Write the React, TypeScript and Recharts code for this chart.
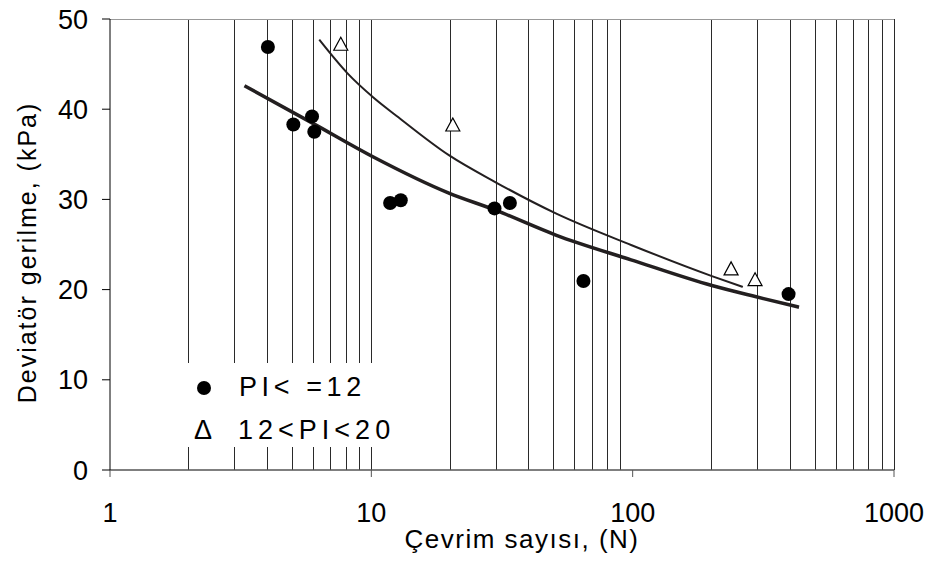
import React from 'react';
import {
  ComposedChart,
  Line,
  Scatter,
  XAxis,
  YAxis,
  ReferenceLine,
  Legend,
} from 'recharts';

// measured points, PI <= 12
const lowPiCycles = [4.02, 5.03, 5.93, 6.05, 11.8, 12.96, 29.6, 33.9, 64.8, 395];
const lowPiStress = [46.9, 38.3, 39.2, 37.5, 29.6, 29.9, 29.0, 29.6, 20.95, 19.5];

// measured points, 12 < PI < 20
const midPiCycles = [7.64, 20.5, 238, 294];
const midPiStress = [47.2, 38.25, 22.3, 21.1];

// trend curve, PI <= 12
const lowFitCycles = [3.27, 6.0, 10.18, 19.8, 29.9, 50.8, 98.6, 201, 297, 433];
const lowFitStress = [42.6, 38.4, 34.7, 30.7, 28.8, 26.05, 23.3, 20.45, 19.2, 18.05];

// trend curve, 12 < PI < 20
const midFitCycles = [6.32, 8.09, 10.18, 12.5, 19.8, 29.9, 50.8, 98.6, 201, 264];
const midFitStress = [47.7, 44.0, 41.3, 39.25, 34.9, 31.9, 28.45, 24.95, 21.5, 20.3];

const xTicks = [1, 10, 100, 1000];
const yTicks = [0, 10, 20, 30, 40, 50];
const minorCycles = [2, 3, 4, 5, 6, 7, 8, 9, 10, 20, 30, 40, 50, 60, 70, 80, 90, 200, 300, 400, 500, 600, 700, 800, 900, 1000];

const FONT = '"Liberation Sans", Arial, sans-serif';

const toPoints = (xs: number[], ys: number[]) => xs.map((x, i) => ({ x, y: ys[i] }));

const lowPiData = toPoints(lowPiCycles, lowPiStress);
const midPiData = toPoints(midPiCycles, midPiStress);
const lowFitData = toPoints(lowFitCycles, lowFitStress);
const midFitData = toPoints(midFitCycles, midFitStress);

const Dot = (props: any) => <circle cx={props.cx} cy={props.cy} r={7} fill="#000" />;

const Tri = (props: any) => {
  const { cx, cy } = props;
  const pts = `${cx},${cy - 7} ${cx - 7},${cy + 6} ${cx + 7},${cy + 6}`;
  return <polygon points={pts} fill="#fff" stroke="#000" strokeWidth={1.2} />;
};

const LegendBox = () => (
  <div style={{ background: '#fff', width: '100%', height: '100%', fontFamily: FONT, fontSize: 27, color: '#000' }}>
    <div style={{ position: 'absolute', left: 14, top: 9, display: 'flex', alignItems: 'center' }}>
      <span style={{ display: 'inline-block', width: 14, height: 14, borderRadius: 7, background: '#000', marginRight: 28, marginLeft: 1 }} />
      <span style={{ letterSpacing: 4.6 }}>PI&lt; =12</span>
    </div>
    <div style={{ position: 'absolute', left: 12, top: 52, display: 'flex', alignItems: 'center' }}>
      <span style={{ marginRight: 26 }}>Δ</span>
      <span style={{ letterSpacing: 5 }}>12&lt;PI&lt;20</span>
    </div>
  </div>
);

const YTitle = (props: any) => {
  const { x, y, height } = props.viewBox;
  const cx = x + 36;
  const cy = y + height / 2 + 8;
  return (
    <text
      x={cx}
      y={cy}
      transform={`rotate(-90, ${cx}, ${cy})`}
      textAnchor="middle"
      fontFamily={FONT}
      fontSize={25}
      letterSpacing={2}
      fill="#000"
    >
      Deviatör gerilme,  (kPa)
    </text>
  );
};

const XTitle = (props: any) => {
  const { x, y, width } = props.viewBox;
  return (
    <text
      x={x + width / 2 + 20}
      y={y + 78}
      textAnchor="middle"
      fontFamily={FONT}
      fontSize={26}
      letterSpacing={1.5}
      fill="#000"
    >
      Çevrim sayısı, (N)
    </text>
  );
};

export default function App() {
  return (
    <div style={{ position: 'absolute', left: 0, top: 0, background: '#fff' }}>
      <ComposedChart width={931} height={568} margin={{ top: 19, right: 37, left: 0, bottom: 0 }}>
        {minorCycles.map((v) => (
          <ReferenceLine key={v} x={v} stroke="#2a2a2a" strokeWidth={1} shapeRendering="crispEdges" />
        ))}
        <ReferenceLine y={50} stroke="#999" strokeWidth={1} shapeRendering="crispEdges" />
        <XAxis
          type="number"
          dataKey="x"
          scale="log"
          domain={[1, 1000]}
          ticks={xTicks}
          allowDataOverflow
          height={98}
          tickSize={7}
          tickMargin={26}
          axisLine={{ stroke: '#555', strokeWidth: 1.5 }}
          tickLine={{ stroke: '#555' }}
          tick={{ fontSize: 27, fill: '#000', fontFamily: FONT }}
          label={<XTitle />}
        />
        <YAxis
          type="number"
          dataKey="y"
          domain={[0, 50]}
          ticks={yTicks}
          width={110}
          tickSize={8}
          tickMargin={14}
          axisLine={{ stroke: '#000' }}
          tickLine={{ stroke: '#000' }}
          tick={{ fontSize: 27, fill: '#000', fontFamily: FONT }}
          label={<YTitle />}
        />
        <Legend
          layout="horizontal"
          verticalAlign="middle"
          align="center"
          content={<LegendBox />}
          wrapperStyle={{ left: 182, top: 363, width: 222, height: 84 }}
        />
        <Line
          data={midFitData}
          dataKey="y"
          type="monotone"
          stroke="#231f20"
          strokeWidth={2}
          dot={false}
          isAnimationActive={false}
          legendType="none"
        />
        <Line
          data={lowFitData}
          dataKey="y"
          type="monotone"
          stroke="#231f20"
          strokeWidth={3.5}
          dot={false}
          isAnimationActive={false}
          legendType="none"
        />
        <Scatter name="PI< =12" data={lowPiData} dataKey="y" shape={<Dot />} isAnimationActive={false} />
        <Scatter name="12<PI<20" data={midPiData} dataKey="y" shape={<Tri />} isAnimationActive={false} />
      </ComposedChart>
    </div>
  );
}
